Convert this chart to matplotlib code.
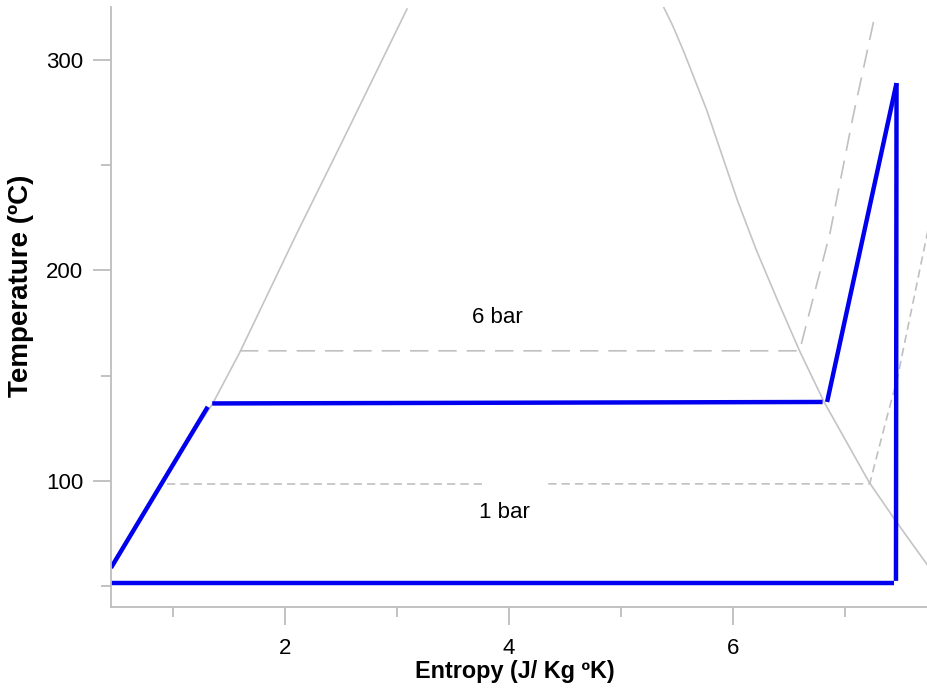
import matplotlib
matplotlib.use("Agg")
import matplotlib.pyplot as plt

plt.rcParams['font.family'] = ['Liberation Sans', 'DejaVu Sans']

# saturation dome (entropy, temperature)
liq_s = [0.44, 0.80, 1.10, 1.357, 1.598, 2.107, 2.518, 3.089]
liq_T = [58.7, 90.0, 116.0, 137.0, 161.3, 217.8, 262.0, 324.2]
vap_s = [5.371, 5.460, 5.560, 5.765, 6.038, 6.208, 6.396, 6.594, 6.813, 7.214, 7.446, 7.723, 7.964]
vap_T = [326.1, 316.5, 304.0, 276.2, 233.5, 209.7, 186.0, 161.8, 137.5, 99.5, 81.5, 61.0, 43.5]

# isobars
p6_s = [1.598, 6.594, 6.866, 7.071, 7.268]
p6_T = [161.8, 161.8, 217.8, 272.9, 321.4]
p1a_s = [0.946, 3.77]
p1a_T = [98.6, 98.6]
p1b_s = [4.35, 7.22, 7.375, 7.464, 7.732, 7.85]
p1b_T = [98.6, 98.6, 130.4, 148.0, 216.9, 246.0]

# cycle segments
cycle = [
    ([0.446, 1.31], [58.7, 135.2]),
    ([1.35, 6.80], [136.8, 137.5]),
    ([6.84, 7.46], [137.5, 289.0]),
    ([7.46, 7.455], [289.0, 52.5]),
    ([0.446, 7.44], [51.5, 51.5]),
]

labels = [(3.90, 177.7, '6 bar'), (3.96, 84.8, '1 bar')]

fig = plt.figure(figsize=(9.28, 6.91), dpi=100)
ax = fig.add_axes([0.1196, 0.1216, 0.8804, 0.8684])

grey = '#c4c4c4'
ax.plot(liq_s, liq_T, color=grey, lw=1.2)
ax.plot(vap_s, vap_T, color=grey, lw=1.2)
ax.plot(p6_s, p6_T, color='#c0c0c0', lw=1.2, dashes=(11, 6))
ax.plot(p1a_s, p1a_T, color='#c0c0c0', lw=1.2, dashes=(5, 3))
ax.plot(p1b_s, p1b_T, color='#c0c0c0', lw=1.2, dashes=(5, 3))

for s, T in cycle:
    ax.plot(s, T, color='#0000ee', lw=3.2, solid_capstyle='butt')

for s, T, txt in labels:
    ax.text(s, T, txt, ha='center', va='center', fontsize=16)

ax.set_xlim(0.446, 7.741)
ax.set_ylim(40.1, 325.2)

ax.set_xticks([2, 4, 6])
ax.set_xticks([1, 3, 5, 7], minor=True)
ax.set_yticks([100, 200, 300])
ax.set_yticks([50, 150, 250], minor=True)

for side in ['top', 'right']:
    ax.spines[side].set_visible(False)
for side in ['left', 'bottom']:
    ax.spines[side].set_color('#bdbdbd')
    ax.spines[side].set_linewidth(1.3)

ax.tick_params(which='major', length=13, width=1.3, color='#bdbdbd',
               labelsize=16, pad=7)
ax.tick_params(which='minor', length=7, width=1.3, color='#bdbdbd')
ax.tick_params(axis='x', which='major', pad=9)

ax.set_xlabel('Entropy (J/ Kg ºK)', fontsize=16.8, fontweight='bold')
ax.set_ylabel('Temperature (ºC)', fontsize=20, fontweight='bold')
ax.xaxis.set_label_coords(0.4945, -0.088)
ax.yaxis.set_label_coords(-0.094, 0.535)

fig.savefig('out.png', dpi=100)
